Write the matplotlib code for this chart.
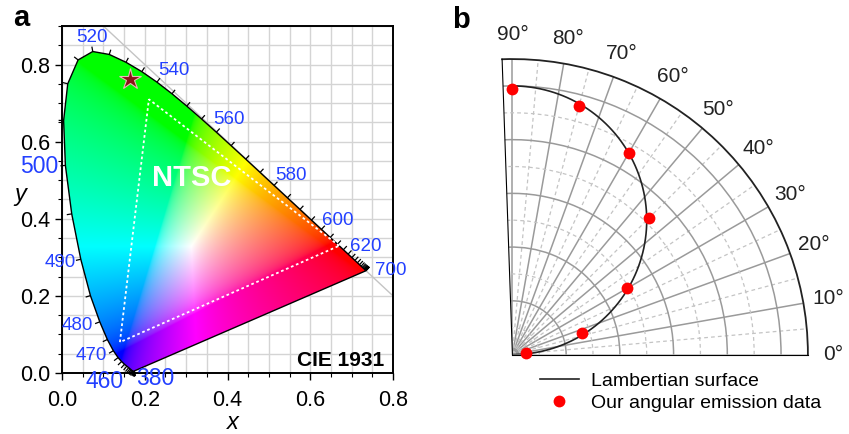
import numpy as np
import matplotlib

matplotlib.use("Agg")
import matplotlib.pyplot as plt
from matplotlib.patches import Polygon
from matplotlib.lines import Line2D

plt.rcParams["font.family"] = "sans-serif"
plt.rcParams["font.sans-serif"] = ["Liberation Sans", "DejaVu Sans"]

# CIE 1931 2-degree spectral locus, 380-700 nm in 5 nm steps
wavelengths = np.arange(380, 705, 5)
locus_x = [
    0.1741, 0.1740, 0.1738, 0.1736, 0.1733, 0.1730, 0.1726, 0.1721, 0.1714, 0.1703,
    0.1689, 0.1669, 0.1644, 0.1611, 0.1566, 0.1510, 0.1440, 0.1355, 0.1241, 0.1096,
    0.0913, 0.0687, 0.0454, 0.0235, 0.0082, 0.0039, 0.0139, 0.0389, 0.0743, 0.1142,
    0.1547, 0.1929, 0.2296, 0.2658, 0.3016, 0.3373, 0.3731, 0.4087, 0.4441, 0.4788,
    0.5125, 0.5448, 0.5752, 0.6029, 0.6270, 0.6482, 0.6658, 0.6801, 0.6915, 0.7006,
    0.7079, 0.7140, 0.7190, 0.7230, 0.7260, 0.7283, 0.7300, 0.7311, 0.7320, 0.7327,
    0.7334, 0.7340, 0.7344, 0.7346, 0.7347,
]
locus_y = [
    0.0050, 0.0050, 0.0049, 0.0049, 0.0048, 0.0048, 0.0048, 0.0048, 0.0051, 0.0058,
    0.0069, 0.0086, 0.0109, 0.0138, 0.0177, 0.0227, 0.0297, 0.0399, 0.0578, 0.0868,
    0.1327, 0.2007, 0.2950, 0.4127, 0.5384, 0.6548, 0.7502, 0.8120, 0.8338, 0.8262,
    0.8059, 0.7816, 0.7543, 0.7243, 0.6923, 0.6589, 0.6245, 0.5896, 0.5547, 0.5202,
    0.4866, 0.4544, 0.4242, 0.3965, 0.3725, 0.3514, 0.3340, 0.3197, 0.3083, 0.2993,
    0.2920, 0.2859, 0.2809, 0.2770, 0.2740, 0.2717, 0.2700, 0.2689, 0.2680, 0.2673,
    0.2666, 0.2660, 0.2656, 0.2654, 0.2653,
]
labelled_nm = [380, 460, 470, 480, 490, 500, 520, 540, 560, 580, 600, 620, 700]

# NTSC primaries (R, G, B) and the measured emitter
ntsc_x = [0.67, 0.21, 0.14]
ntsc_y = [0.33, 0.71, 0.08]
emitter_x = 0.165
emitter_y = 0.763

# angular emission measurements
emission_deg = [90, 75, 60, 45, 30, 17, 7]
emission_r = [0.99, 0.957, 0.865, 0.719, 0.492, 0.272, 0.05]

BLUE = "#2340ff"
DARK = "#222222"


def chromaticity_rgb(nx=700, ny=700):
    gx, gy = np.meshgrid(np.linspace(0, 0.8, nx), np.linspace(0, 0.9, ny))
    gy_safe = np.clip(gy, 1e-3, None)
    xyz = np.stack([gx / gy_safe, np.ones_like(gx), (1 - gx - gy) / gy_safe], axis=-1)
    m = np.array([[3.2406, -1.5372, -0.4986],
                  [-0.9689, 1.8758, 0.0415],
                  [0.0557, -0.2040, 1.0570]])
    rgb = np.clip(xyz @ m.T, 0, None)
    rgb /= rgb.max(axis=-1, keepdims=True) + 1e-9
    rgb = np.where(rgb <= 0.0031308, 12.92 * rgb, 1.055 * rgb ** (1 / 2.4) - 0.055)
    return np.clip(rgb, 0, 1)


def cie_panel(ax):
    ax.set_xlim(0, 0.8)
    ax.set_ylim(0, 0.9)
    ax.set_xticks(np.arange(0, 0.81, 0.2))
    ax.set_yticks(np.arange(0, 0.81, 0.2))
    ax.set_xticks(np.arange(0, 0.81, 0.05), minor=True)
    ax.set_yticks(np.arange(0, 0.91, 0.05), minor=True)
    ax.xaxis.set_major_formatter("{x:.1f}")
    ax.yaxis.set_major_formatter("{x:.1f}")
    ax.tick_params(which="major", direction="out", length=5, width=1, labelsize=15.5)
    ax.tick_params(axis="x", which="major", pad=7)
    ax.tick_params(which="minor", direction="out", length=3, width=0.8)
    ax.grid(which="both", color="#d4d4d4", lw=1)
    ax.set_axisbelow(True)
    for s in ax.spines.values():
        s.set_linewidth(1.4)

    xs = np.array(ax.get_xlim())
    ax.plot(xs, 1 - xs, color="#c4c4c4", lw=1, zorder=1)

    pts = np.column_stack([locus_x, locus_y])
    horseshoe = Polygon(pts, closed=True, facecolor="none", edgecolor="black", lw=1, zorder=3)
    ax.add_patch(horseshoe)
    im = ax.imshow(chromaticity_rgb(), origin="lower", extent=(0, 0.8, 0, 0.9),
                   aspect="auto", interpolation="bilinear", zorder=2)
    im.set_clip_path(horseshoe)

    # small outward ticks along the locus, every 5 nm
    disp = ax.transData.transform(pts)
    centre = ax.transData.transform((0.33, 0.33))
    inv = ax.transData.inverted()
    for i in range(len(pts)):
        a = disp[max(i - 1, 0)]
        b = disp[min(i + 1, len(pts) - 1)]
        t = b - a
        if np.hypot(*t) < 1e-6:
            t = np.array([1.0, 0.0])
        n = np.array([t[1], -t[0]]) / np.hypot(*t)
        if np.dot(n, disp[i] - centre) < 0:
            n = -n
        seg = inv.transform([disp[i], disp[i] + 5 * n])
        ax.plot(seg[:, 0], seg[:, 1], color="black", lw=0.9, zorder=3,
                solid_capstyle="butt", clip_on=False)

    offsets = {380: (21, -7.5), 460: (-17, -19.5), 470: (-22, -5), 480: (-22, -3.3),
               490: (-21, -3.5), 500: (-26, -1), 520: (-1, 14), 540: (17, 12),
               560: (13, 12.5), 580: (17, 10), 600: (16, 9), 620: (18, 7.5), 700: (25, 0)}
    for nm in labelled_nm:
        i = list(wavelengths).index(nm)
        size = 16.5 if nm in (380, 460, 500) else 13.5
        ax.annotate(str(nm), (locus_x[i], locus_y[i]), xytext=offsets[nm],
                    textcoords="offset pixels", ha="center", va="center",
                    color=BLUE, fontsize=size, annotation_clip=False, zorder=5)

    tri = Polygon(np.column_stack([ntsc_x, ntsc_y]), closed=True, fill=False,
                  edgecolor="white", lw=1.3, ls=(0, (1.5, 1.5)), zorder=4)
    ax.add_patch(tri)
    ax.plot(emitter_x, emitter_y, marker="*", ms=16, color="#8c1218",
            mec="#e8b8b8", mew=0.8, zorder=6)

    ax.text(0.313, 0.506, "NTSC", color="white", fontsize=21, fontweight="bold",
            ha="center", va="center", zorder=5)
    ax.text(0.975, 0.035, "CIE 1931", transform=ax.transAxes, ha="right", va="center",
            fontsize=15, fontweight="bold", zorder=5)

    ax.set_xlabel("x", fontsize=17, fontstyle="italic", va="center")
    ax.xaxis.set_label_coords(0.515, -0.142)
    ax.set_ylabel("y", fontsize=17, fontstyle="italic", rotation=0, va="center")
    ax.yaxis.set_label_coords(-0.127, 0.513)


def polar_panel(ax):
    ax.set_thetamin(0)
    ax.set_thetamax(92)
    ax.set_rlim(0, 1.1)
    ax.set_xticks(np.deg2rad(np.arange(0, 91, 10)))
    ax.set_xticklabels([f"{d}°" for d in range(0, 91, 10)])
    ax.set_xticks(np.deg2rad(np.arange(5, 90, 10)), minor=True)
    ax.set_yticks([0.2, 0.4, 0.6, 0.8, 1.0])
    ax.set_yticklabels([])
    ax.set_yticks([0.1, 0.3, 0.5, 0.7, 0.9], minor=True)
    ax.grid(which="major", color="#9a9a9a", lw=1.1, ls="-")
    ax.grid(which="minor", color="#c4c4c4", lw=0.9, ls=(0, (3, 2.5)))
    ax.tick_params(axis="x", which="major", direction="in", length=9, width=1.1,
                   color=DARK, pad=11, labelsize=15, labelcolor=DARK)
    ax.tick_params(axis="x", which="minor", direction="in", length=5, width=0.9, color=DARK)
    ax.tick_params(axis="y", which="both", length=0)
    ax.spines["polar"].set_color(DARK)
    ax.spines["polar"].set_linewidth(1.3)
    ax.spines["start"].set_visible(False)
    ax.spines["end"].set_visible(False)

    theta = np.deg2rad(np.linspace(0, 90, 181))
    ax.plot(theta, np.sin(theta), color=DARK, lw=1.2, zorder=3)
    ax.plot(np.deg2rad(emission_deg), emission_r, "o", color="#ff0000", ms=8.5,
            mec="none", zorder=4, clip_on=False)


fig = plt.figure(figsize=(8.49, 4.34), dpi=100)
ax_a = fig.add_axes([62 / 849, 61 / 434, 331 / 849, 347 / 434])
ax_b = fig.add_axes([496.8 / 849, (434 - 359.1) / 434, 316.4 / 849, 305.8 / 434],
                    projection="polar")
cie_panel(ax_a)
polar_panel(ax_b)

handles = [Line2D([], [], color=DARK, lw=1.2),
           Line2D([], [], ls="none", marker="o", color="#ff0000", ms=8.5, mec="none")]
fig.legend(handles, ["Lambertian surface", "Our angular emission data"],
           loc="upper left", bbox_to_anchor=(540 / 849, 1 - 372 / 434), frameon=False,
           fontsize=14, handlelength=2.0, handletextpad=0.6, labelspacing=0.25,
           borderpad=0, borderaxespad=0)

fig.text(13 / 849, 1 - 18 / 434, "a", fontsize=21, fontweight="bold", va="center")
fig.text(452 / 849, 1 - 20 / 434, "b", fontsize=21, fontweight="bold", va="center")

fig.savefig("out.png", dpi=100)
